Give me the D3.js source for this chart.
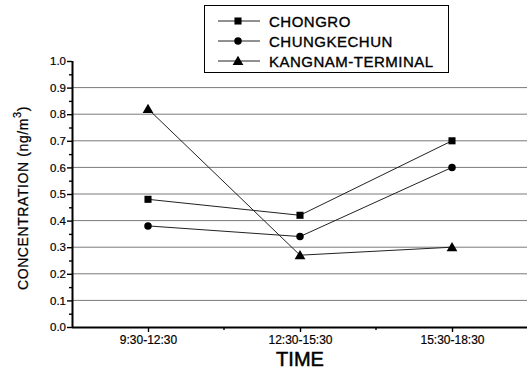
<!DOCTYPE html>
<html>
<head>
<meta charset="utf-8">
<script src="https://cdn.jsdelivr.net/npm/d3@7"></script>
<style>
  html, body { margin: 0; padding: 0; background: #fff; }
  svg { display: block; font-family: "Liberation Sans", Arial, Helvetica, sans-serif; }
</style>
</head>
<body>
<svg id="chart" width="527" height="375"></svg>
<script>
// Time windows sampled at each site
const periods = ["9:30-12:30", "12:30-15:30", "15:30-18:30"];

// Concentrations (ng/m3) per site
const chongro     = [0.48, 0.42, 0.70];
const chungkechun = [0.38, 0.34, 0.60];
const kangnam     = [0.82, 0.27, 0.30];

const seriesNames   = ["CHONGRO", "CHUNGKECHUN", "KANGNAM-TERMINAL"];
const seriesSymbols = ["square", "circle", "triangle"];
const yTicks = [0.0, 0.1, 0.2, 0.3, 0.4, 0.5, 0.6, 0.7, 0.8, 0.9, 1.0];
const yMinorTicks = [0.05, 0.15, 0.25, 0.35, 0.45, 0.55, 0.65, 0.75, 0.85, 0.95];

const series = [chongro, chungkechun, kangnam].map((vals, i) => ({
  name: seriesNames[i],
  symbol: seriesSymbols[i],
  values: vals
}));

const svg = d3.select("#chart");
const margin = { left: 72, right: 0, top: 61, bottom: 48 };
const width = 527, height = 375;

const x = d3.scalePoint()
  .domain(periods)
  .range([margin.left, width + 1])
  .padding(0.5);

const y = d3.scaleLinear()
  .domain([0, 1])
  .range([height - margin.bottom, margin.top]);

const symbolType = {
  square: d3.symbolSquare,
  circle: d3.symbolCircle,
  triangle: d3.symbolTriangle
};
const symbolSize = { square: 50, circle: 44, triangle: 50 };

// Horizontal gridlines
svg.append("g")
  .selectAll("line")
  .data(yTicks.filter(d => d > 0 && d < 1))
  .join("line")
  .attr("x1", margin.left)
  .attr("x2", width)
  .attr("y1", d => y(d))
  .attr("y2", d => y(d))
  .attr("stroke", "#7a7a7a")
  .attr("stroke-width", 1);

// Y axis with major and minor ticks
const yAxis = svg.append("g")
  .attr("transform", `translate(${margin.left},0)`)
  .call(d3.axisLeft(y).tickValues(yTicks).tickFormat(d3.format(".1f")).tickSize(5).tickPadding(1));
yAxis.select(".domain").attr("stroke", "#000").attr("stroke-width", 2).attr("d", `M0.5,${y(1)}V${y(0)}`);
yAxis.selectAll(".tick line").attr("stroke", "#000").attr("stroke-width", 1.4);
yAxis.selectAll(".tick text")
  .attr("font-size", 11.5)
  .attr("fill", "#000")
  .attr("stroke", "#000").attr("stroke-width", 0.2)
  .attr("font-family", "\"Liberation Sans\", Arial, sans-serif");

svg.append("g")
  .attr("transform", `translate(${margin.left},0)`)
  .call(d3.axisLeft(y).tickValues(yMinorTicks).tickFormat("").tickSize(3))
  .call(g => g.select(".domain").remove())
  .selectAll(".tick line").attr("stroke", "#000").attr("stroke-width", 1.4);

// X axis: major ticks at period centres, minor ticks between periods
const xAxis = svg.append("g")
  .attr("transform", `translate(0,${y(0)})`)
  .call(d3.axisBottom(x).tickSize(5).tickPadding(3));
xAxis.select(".domain").attr("stroke", "#000").attr("stroke-width", 2).attr("d", `M${margin.left},0.5H${width}`);
xAxis.selectAll(".tick line").attr("stroke", "#000").attr("stroke-width", 1.4);
xAxis.selectAll(".tick text")
  .attr("font-size", 12)
  .attr("fill", "#000")
  .attr("stroke", "#000").attr("stroke-width", 0.2)
  .attr("font-family", "\"Liberation Sans\", Arial, sans-serif");

const step = x.step();
const between = periods.slice(0, -1).map(p => x(p) + step / 2);
svg.append("g")
  .selectAll("line")
  .data(between)
  .join("line")
  .attr("x1", d => d).attr("x2", d => d)
  .attr("y1", y(0)).attr("y2", y(0) + 3)
  .attr("stroke", "#000").attr("stroke-width", 1.4);

// Series lines and markers
const line = d3.line()
  .x((d, i) => x(periods[i]))
  .y(d => y(d));

const sg = svg.append("g").selectAll("g")
  .data(series)
  .join("g");

sg.append("path")
  .attr("d", d => line(d.values))
  .attr("fill", "none")
  .attr("stroke", "#222")
  .attr("stroke-width", 1);

sg.selectAll("path.mark")
  .data(d => d.values.map((v, i) => ({ v, i, symbol: d.symbol })))
  .join("path")
  .attr("class", "mark")
  .attr("transform", d => `translate(${x(periods[d.i])},${y(d.v) + (d.symbol === "triangle" ? 1 : 0)})`)
  .attr("d", d => d3.symbol(symbolType[d.symbol], symbolSize[d.symbol])())
  .attr("fill", "#000");

// Legend
const legend = svg.append("g");
legend.append("rect")
  .attr("x", 204.5).attr("y", 5.5)
  .attr("width", 244).attr("height", 67)
  .attr("fill", "#fff")
  .attr("stroke", "#000")
  .attr("stroke-width", 1);

const rowY = [21, 41, 61];
const li = legend.selectAll("g.item")
  .data(series)
  .join("g")
  .attr("class", "item")
  .attr("transform", (d, i) => `translate(0,${rowY[i]})`);

li.append("line")
  .attr("x1", 218).attr("x2", 260)
  .attr("y1", 0).attr("y2", 0)
  .attr("stroke", "#222").attr("stroke-width", 1);
li.append("path")
  .attr("transform", d => `translate(238,${d.symbol === "triangle" ? 1 : 0})`)
  .attr("d", d => d3.symbol(symbolType[d.symbol], symbolSize[d.symbol])())
  .attr("fill", "#000");
li.append("text")
  .attr("x", 269)
  .attr("y", 5.5)
  .attr("font-size", 15)
  .attr("letter-spacing", 0.5)
  .attr("fill", "#000")
  .attr("stroke", "#000").attr("stroke-width", 0.35)
  .text(d => d.name);

// Axis titles
svg.append("text")
  .attr("x", x(periods[1]))
  .attr("y", 366)
  .attr("text-anchor", "middle")
  .attr("font-size", 20)
  .attr("fill", "#000")
  .attr("stroke", "#000").attr("stroke-width", 0.5)
  .text("TIME");

const yTitle = svg.append("text")
  .attr("transform", `translate(28,${(y(0) + y(1)) / 2 + 4}) rotate(-90)`)
  .attr("text-anchor", "middle")
  .attr("font-size", 14)
  .attr("letter-spacing", 0.6)
  .attr("fill", "#000")
  .attr("stroke", "#000").attr("stroke-width", 0.25);
yTitle.append("tspan").text("CONCENTRATION   (ng/m");
yTitle.append("tspan").attr("dy", -7).attr("font-size", 11).text("3");
yTitle.append("tspan").attr("dy", 7).text(")");
</script>
</body>
</html>
